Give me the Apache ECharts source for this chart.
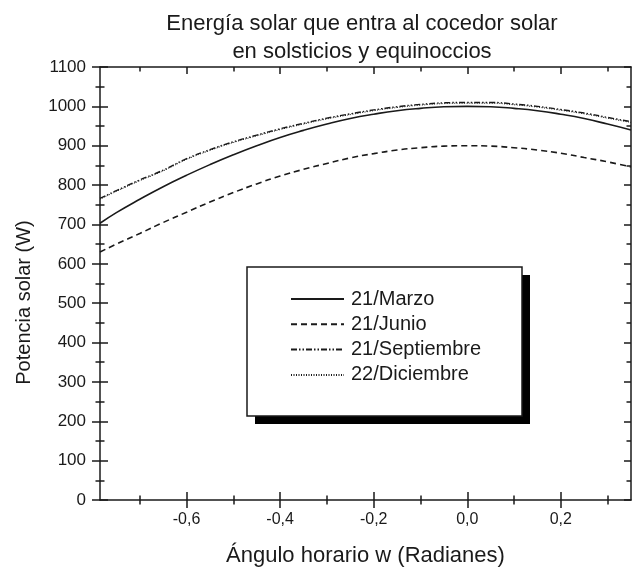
<!DOCTYPE html>
<html>
<head>
<meta charset="utf-8">
<script src="https://cdn.jsdelivr.net/npm/echarts@6/dist/echarts.min.js"></script>
<style>
  html, body { margin: 0; padding: 0; background: #fff; }
  #chart { width: 633px; height: 572px; }
</style>
</head>
<body>
<div id="chart"></div>
<script>
// ángulo horario w (rad)
const angle = [-0.785, -0.75, -0.7, -0.65, -0.6, -0.55, -0.5, -0.45, -0.4, -0.35, -0.3, -0.25,
  -0.2, -0.15, -0.1, -0.05, 0, 0.05, 0.1, 0.15, 0.2, 0.25, 0.3, 0.35]
const marzo = [703, 730, 764, 796, 825, 852, 877, 900, 921, 939, 955, 969,
  980, 989, 995, 999, 1000, 999, 995, 989, 980, 969, 955, 940]
const junio = [630, 650, 677, 705, 731, 757, 781, 803, 823, 840, 855, 869,
  880, 889, 895, 899, 900, 899, 895, 889, 881, 870, 859, 846]
const septiembre = [766, 786, 813, 838, 867, 890, 910, 927, 943, 957, 970, 981,
  991, 999, 1005, 1009, 1010, 1010, 1006, 1000, 992, 983, 972, 961]
const diciembre = [764, 784, 811, 836, 865, 888, 908, 925, 941, 955, 968, 979,
  989, 997, 1003, 1007, 1008, 1008, 1004, 998, 990, 981, 970, 959]

const xMajor = [-0.6, -0.4, -0.2, 0, 0.2]
const xMinor = [-0.7, -0.5, -0.3, -0.1, 0.1, 0.3]

const ink = '#1a1a1a'
const font = 'Liberation Sans, Arial, sans-serif'

function pairs(ys) {
  return angle.map((a, i) => [a, ys[i]])
}

// un eje x "fantasma" para cada juego de marcas
function xTicks(pos, vals, len, inside, extra) {
  return Object.assign({
    type: 'value', position: pos, min: -0.785, max: 0.35,
    axisLine: { show: false, onZero: false },
    axisTick: { show: true, inside: inside, length: len, customValues: vals,
      lineStyle: { color: ink, width: 1.5 } },
    axisLabel: { show: false },
    splitLine: { show: false },
  }, extra || {})
}

const chart = echarts.init(document.getElementById('chart'))
chart.setOption({
  animation: false,
  title: {
    text: 'Energía solar que entra al cocedor solar\nen solsticios y equinoccios',
    left: 357, top: 5, textAlign: 'center',
    textStyle: { fontFamily: font, fontSize: 22, fontWeight: 'normal', color: ink, lineHeight: 28 },
  },
  grid: { left: 100, right: 2, top: 67, bottom: 71 },
  // caja de la leyenda con su sombra
  graphic: [
    { type: 'rect', z: 10, shape: { x: 255, y: 275, width: 275, height: 149 },
      style: { fill: '#000' } },
    { type: 'rect', z: 11, shape: { x: 247, y: 267, width: 275, height: 149 },
      style: { fill: '#fff', stroke: ink, lineWidth: 1.5 } },
  ],
  legend: {
    orient: 'vertical', left: 247, top: 267, z: 20,
    padding: [22, 0, 0, 43],
    itemWidth: 53, itemHeight: 20, itemGap: 5.3,
    itemStyle: { opacity: 0 },
    textStyle: { fontFamily: font, fontSize: 20, color: ink, lineHeight: 20, padding: [0, 0, 0, 2] },
    data: ['21/Marzo', '21/Junio', '21/Septiembre', '22/Diciembre'],
  },
  xAxis: [
    {
      type: 'value', position: 'bottom', min: -0.785, max: 0.35,
      name: 'Ángulo horario w (Radianes)', nameLocation: 'middle', nameGap: 45,
      nameTextStyle: { fontFamily: font, fontSize: 22, color: ink },
      axisLine: { onZero: false, lineStyle: { color: ink, width: 1.5 } },
      axisTick: { inside: false, length: 8, customValues: xMajor, lineStyle: { color: ink, width: 1.5 } },
      axisLabel: { customValues: xMajor, margin: 12, fontFamily: font, fontSize: 16, color: ink,
        formatter: v => v.toFixed(1).replace('.', ',') },
      splitLine: { show: false },
    },
    xTicks('bottom', xMajor, 8, true),
    xTicks('bottom', xMinor, 4.5, false),
    xTicks('bottom', xMinor, 4.5, true),
    xTicks('top', xMajor, 7, true, { axisLine: { show: true, onZero: false, lineStyle: { color: ink, width: 1.5 } } }),
    xTicks('top', xMinor, 4.5, true),
  ],
  yAxis: [
    {
      type: 'value', position: 'left', min: 0, max: 1100, interval: 100,
      name: 'Potencia solar (W)', nameLocation: 'middle', nameGap: 66,
      nameTextStyle: { fontFamily: font, fontSize: 20, color: ink, padding: [0, 38, 0, 0] },
      axisLine: { show: true, onZero: false, lineStyle: { color: ink, width: 1.5 } },
      axisTick: { inside: false, length: 8, lineStyle: { color: ink, width: 1.5 } },
      minorTick: { show: true, splitNumber: 2, length: 4.5, lineStyle: { color: ink, width: 1.5 } },
      axisLabel: { margin: 14, fontFamily: font, fontSize: 17, color: ink, formatter: v => String(v) },
      splitLine: { show: false },
    },
    {
      type: 'value', position: 'left', min: 0, max: 1100, interval: 100,
      axisLine: { show: false, onZero: false },
      axisTick: { inside: true, length: 8, lineStyle: { color: ink, width: 1.5 } },
      minorTick: { show: true, splitNumber: 2, length: 4.5, lineStyle: { color: ink, width: 1.5 } },
      axisLabel: { show: false },
      splitLine: { show: false },
    },
    {
      type: 'value', position: 'right', min: 0, max: 1100, interval: 100,
      axisLine: { show: true, onZero: false, lineStyle: { color: ink, width: 1.5 } },
      axisTick: { inside: true, length: 7, lineStyle: { color: ink, width: 1.5 } },
      minorTick: { show: true, splitNumber: 2, length: 4.5, lineStyle: { color: ink, width: 1.5 } },
      axisLabel: { show: false },
      splitLine: { show: false },
    },
  ],
  series: [
    {
      name: '21/Marzo', type: 'line', symbol: 'none', smooth: true, z: 5,
      lineStyle: { color: ink, width: 1.6, type: 'solid' }, itemStyle: { color: ink },
      data: pairs(marzo),
    },
    {
      name: '21/Junio', type: 'line', symbol: 'none', smooth: true,
      lineStyle: { color: ink, width: 1.6, type: [6, 4] }, itemStyle: { color: ink },
      data: pairs(junio),
    },
    {
      name: '21/Septiembre', type: 'line', symbol: 'none', smooth: true,
      lineStyle: { color: ink, width: 1.4, type: [6, 2, 1.5, 2, 1.5, 2] }, itemStyle: { color: ink },
      data: pairs(septiembre),
    },
    {
      name: '22/Diciembre', type: 'line', symbol: 'none', smooth: true,
      lineStyle: { color: ink, width: 1, type: [1, 1.5] }, itemStyle: { color: ink },
      data: pairs(diciembre),
    },
  ],
})
</script>
</body>
</html>
